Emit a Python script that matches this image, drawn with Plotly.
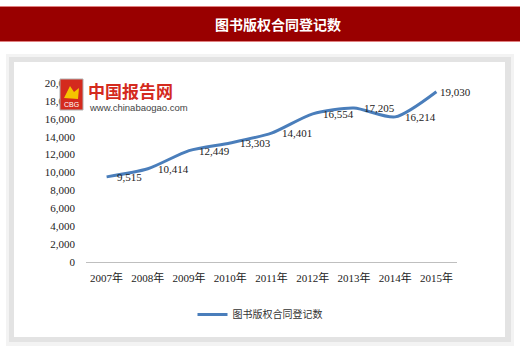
import plotly.graph_objects as go

years = ["2007年", "2008年", "2009年", "2010年", "2011年", "2012年", "2013年", "2014年", "2015年"]
values = [9513, 10414, 12449, 13303, 14401, 16554, 17205, 16214, 19030]
labels = ["9,515", "10,414", "12,449", "13,303", "14,401", "16,554", "17,205", "16,214", "19,030"]
series_name = "图书版权合同登记数"
title_text = "图书版权合同登记数"
y_ticks = list(range(0, 20001, 2000))

serif = "Liberation Serif, Noto Sans CJK SC, serif"
cjk = "Noto Sans CJK SC, sans-serif"

fig = go.Figure()
fig.add_trace(go.Scatter(
    x=years, y=values, mode="lines", name=series_name,
    line=dict(color="#4a7ebb", width=3, shape="spline", smoothing=0.7),
    cliponaxis=False,
))

# data labels placed right of each point
n = len(years)
for i, (yr, v, lab) in enumerate(zip(years, values, labels)):
    fig.add_annotation(x=yr, y=v, text=lab, showarrow=False, xanchor="left", yanchor="middle",
                       xshift=(2 if i == n - 1 else 8),
                       font=dict(family=serif, size=11, color="#222222"))

fig.update_layout(
    width=520, height=354,
    margin=dict(l=86, r=63, t=83, b=92),
    paper_bgcolor="white", plot_bgcolor="white",
    showlegend=True,
    xaxis=dict(type="category", range=[-0.5, 8.5], showgrid=False, zeroline=False,
               showline=True, linecolor="#bfbfbf", linewidth=1, ticks="",
               tickfont=dict(family=serif, size=11, color="#222222"), ticklabelstandoff=6),
    yaxis=dict(range=[0, 20000], tickvals=y_ticks, tickformat=",d", showgrid=False,
               zeroline=False, showline=False, ticks="",
               tickfont=dict(family=serif, size=11, color="#222222"), ticklabelstandoff=10),
)

W, H = 520.0, 354.0
pw, ph = W - 86 - 63, H - 83 - 92
def px(x):
    return (x - 86) / pw
def py(y):
    return (H - 92 - y) / ph

fig.update_layout(legend=dict(orientation="h", x=px(260), xanchor="center", y=py(300), yanchor="top",
                              font=dict(family=cjk, size=10, color="#333333"),
                              itemwidth=30, bgcolor="rgba(0,0,0,0)"))

decor = [
    dict(type="rect", xref="paper", yref="paper", x0=px(0), x1=px(520), y0=py(6), y1=py(42),
         fillcolor="#990000", line=dict(width=0), layer="below"),
    dict(type="line", xref="paper", yref="paper", x0=px(0), x1=px(520), y0=py(6.5), y1=py(6.5),
         line=dict(color="#e08080", width=1), layer="below"),
    dict(type="line", xref="paper", yref="paper", x0=px(0), x1=px(520), y0=py(41.5), y1=py(41.5),
         line=dict(color="#e08080", width=1), layer="below"),
    dict(type="rect", xref="paper", yref="paper", x0=px(6), x1=px(514), y0=py(54), y1=py(346),
         fillcolor="#f3f3f3", line=dict(width=0), layer="below"),
    dict(type="rect", xref="paper", yref="paper", x0=px(9), x1=px(511), y0=py(57), y1=py(342),
         fillcolor="#e3e3e3", line=dict(width=0), layer="below"),
    dict(type="rect", xref="paper", yref="paper", x0=px(14), x1=px(505), y0=py(62), y1=py(337),
         fillcolor="white", line=dict(width=0), layer="below"),
    # logo square
    dict(type="rect", xref="paper", yref="paper", x0=px(60), x1=px(83), y0=py(79), y1=py(110),
         fillcolor="#d42a1e", line=dict(color="#b0b0b0", width=1), layer="above"),
    dict(type="path", xref="paper", yref="paper",
         path=f"M {px(64)},{py(98)} L {px(70)},{py(86)} L {px(74)},{py(92)} L {px(79)},{py(88)} L {px(78)},{py(99)} Z",
         fillcolor="#f5c400", line=dict(width=0), layer="above"),
]
fig.update_layout(shapes=decor)

fig.add_annotation(text=f"<b>{title_text}</b>", xref="paper", yref="paper", x=px(278), y=py(24),
                   xanchor="center", yanchor="middle",
                   showarrow=False, font=dict(family=cjk, size=14, color="white"))
fig.add_annotation(text="<b>中国报告网</b>", xref="paper", yref="paper", x=px(86), y=py(90),
                   xanchor="left", yanchor="middle", showarrow=False,
                   font=dict(family=cjk, size=17, color="#d42a1e"))
fig.add_annotation(text="www.chinabaogao.com", xref="paper", yref="paper", x=px(87), y=py(107),
                   xanchor="left", yanchor="middle", showarrow=False,
                   font=dict(family="Liberation Sans, Arial", size=9.5, color="#444444"))
fig.add_annotation(text="CBG", xref="paper", yref="paper", x=px(71.5), y=py(104),
                   xanchor="center", yanchor="middle",
                   showarrow=False, font=dict(family="Liberation Sans", size=7, color="white"))

fig.write_html("out.html")
